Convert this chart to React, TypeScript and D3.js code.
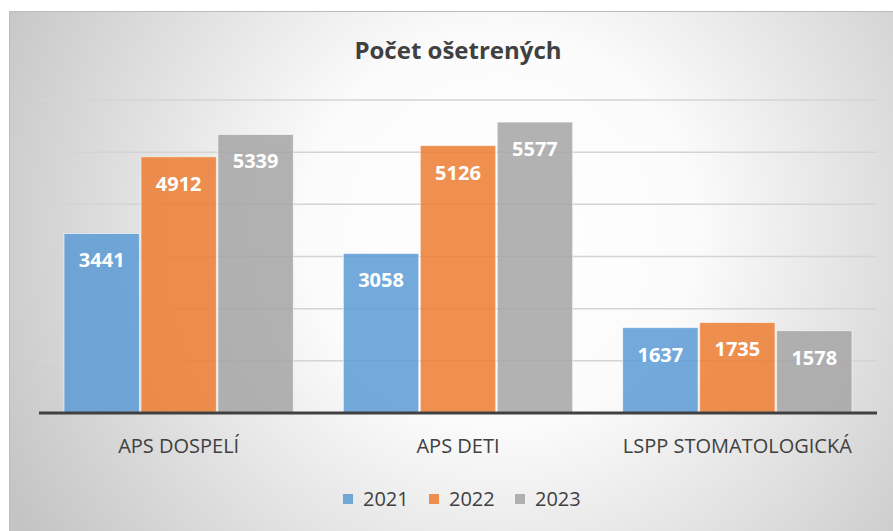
import React, { useEffect, useRef } from 'react';
import * as d3 from 'd3';

const categories = ['APS DOSPELÍ', 'APS DETI', 'LSPP STOMATOLOGICKÁ'];
const years = ['2021', '2022', '2023'];
const values2021 = [3441, 3058, 1637];
const values2022 = [4912, 5126, 1735];
const values2023 = [5339, 5577, 1578];
const yTicks = [1000, 2000, 3000, 4000, 5000, 6000];
const colors = ['#5B9BD5', '#ED7D31', '#A5A5A5'];

const FONT = "'Open Sans', 'DejaVu Sans', sans-serif";

const App = () => {
  const svgRef = useRef<SVGSVGElement>(null);

  useEffect(() => {
    const svg = d3.select(svgRef.current);
    svg.selectAll('*').remove();

    const width = 893;
    const height = 531;
    const plot = { left: 39, right: 877, top: 100, bottom: 413 };
    const series = [values2021, values2022, values2023];

    const defs = svg.append('defs');
    const bg = defs.append('radialGradient')
      .attr('id', 'bg-grad')
      .attr('gradientUnits', 'userSpaceOnUse')
      .attr('cx', 500)
      .attr('cy', 230)
      .attr('r', 560);
    bg.append('stop').attr('offset', '0%').attr('stop-color', '#ffffff');
    bg.append('stop').attr('offset', '35%').attr('stop-color', '#fbfbfb');
    bg.append('stop').attr('offset', '100%').attr('stop-color', '#c4c4c4');

    svg.append('rect')
      .attr('x', 9.5)
      .attr('y', 11.5)
      .attr('width', width)
      .attr('height', height)
      .attr('fill', 'url(#bg-grad)')
      .attr('stroke', '#bdbdbd')
      .attr('stroke-width', 1);

    const x0 = d3.scaleBand<string>()
      .domain(categories)
      .range([plot.left, plot.right])
      .padding(0);

    const inset = 25;
    const x1 = d3.scaleBand<string>()
      .domain(years)
      .range([inset, x0.bandwidth() - inset])
      .paddingInner(0.02);

    const y = d3.scaleLinear()
      .domain([0, 6000])
      .range([plot.bottom, plot.top]);

    // gridlines
    svg.append('g')
      .selectAll('line')
      .data(yTicks)
      .join('line')
      .attr('x1', plot.left)
      .attr('x2', plot.right)
      .attr('y1', d => y(d))
      .attr('y2', d => y(d))
      .attr('stroke', '#d4d4d4')
      .attr('stroke-width', 1.5);

    // bars
    const groups = svg.append('g')
      .selectAll('g')
      .data(categories)
      .join('g')
      .attr('transform', d => `translate(${x0(d)},0)`);

    groups.selectAll('rect')
      .data((c, ci) => years.map((yr, si) => ({ yr, si, v: series[si][ci] })))
      .join('rect')
      .attr('x', d => x1(d.yr)!)
      .attr('y', d => y(d.v))
      .attr('width', x1.bandwidth())
      .attr('height', d => plot.bottom - y(d.v))
      .attr('fill', d => colors[d.si])
      .attr('fill-opacity', 0.85)
      .attr('stroke', '#ffffff')
      .attr('stroke-opacity', 0.6)
      .attr('stroke-width', 1);

    groups.selectAll('text')
      .data((c, ci) => years.map((yr, si) => ({ yr, si, v: series[si][ci] })))
      .join('text')
      .attr('x', d => x1(d.yr)! + x1.bandwidth() / 2)
      .attr('y', d => y(d.v) + 34)
      .attr('text-anchor', 'middle')
      .attr('fill', '#ffffff')
      .attr('font-family', FONT)
      .attr('font-weight', 'bold')
      .attr('font-size', 20)
      .text(d => d.v);

    // axis line
    svg.append('line')
      .attr('x1', plot.left)
      .attr('x2', plot.right)
      .attr('y1', plot.bottom)
      .attr('y2', plot.bottom)
      .attr('stroke', '#404040')
      .attr('stroke-width', 3);

    // category labels
    svg.append('g')
      .selectAll('text')
      .data(categories)
      .join('text')
      .attr('x', d => x0(d)! + x0.bandwidth() / 2)
      .attr('y', 453)
      .attr('text-anchor', 'middle')
      .attr('fill', '#404040')
      .attr('font-family', FONT)
      .attr('font-size', 20)
      .text(d => d);

    // title
    svg.append('text')
      .attr('x', 458)
      .attr('y', 59)
      .attr('text-anchor', 'middle')
      .attr('fill', '#404040')
      .attr('font-family', FONT)
      .attr('font-weight', 'bold')
      .attr('font-size', 24)
      .text('Počet ošetrených');

    // legend
    const legend = svg.append('g')
      .selectAll('g')
      .data(years)
      .join('g')
      .attr('transform', (d, i) => `translate(${343 + i * 86},494)`);
    legend.append('rect')
      .attr('width', 10)
      .attr('height', 10)
      .attr('fill', (d, i) => colors[i])
      .attr('fill-opacity', 0.85);
    legend.append('text')
      .attr('x', 20)
      .attr('y', 12)
      .attr('fill', '#404040')
      .attr('font-family', FONT)
      .attr('font-size', 20)
      .text(d => d);
  }, []);

  return (
    <div style={{ position: 'absolute', left: 0, top: 0 }}>
      <svg ref={svgRef} width={893} height={531} style={{ display: 'block' }} />
    </div>
  );
};

export default App;
